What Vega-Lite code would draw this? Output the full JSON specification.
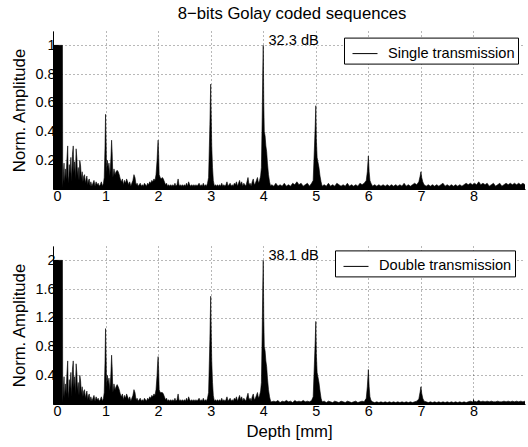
{
"$schema": "https://vega.github.io/schema/vega-lite/v6.json",
"padding": {"left": 11, "top": 6, "right": 0, "bottom": 2},
"config": {
  "font": "Liberation Sans",
  "view": {"stroke": null},
  "axis": {"labelFont": "Liberation Sans", "titleFont": "Liberation Sans", "labelColor": "black", "titleColor": "black", "domainColor": "black", "tickColor": "black", "labelFontSize": 14.4, "titleFontSize": 16.7, "titleFontWeight": "normal", "gridColor": "black", "gridDash": [1, 3], "gridOpacity": 0.7, "gridWidth": 0.8, "domainWidth": 1, "tickWidth": 1, "labelOverlap": false},
  "legend": {"labelFont": "Liberation Sans", "labelFontSize": 14.6, "labelColor": "black"}
},
"title": {"text": "8−bits Golay coded sequences", "fontSize": 16.7, "fontWeight": "normal", "font": "Liberation Sans", "color": "black", "anchor": "middle", "offset": 8, "dx": 23},
"datasets": {
 "topTicks": [{"tx":1},{"tx":2},{"tx":3},{"tx":4},{"tx":5},{"tx":6},{"tx":7},{"tx":8}]
},
"data": {"values": [
{"x":0,"s":1,"d":2},{"x":0.18,"s":1,"d":2},{"x":0.185,"s":0.01,"d":0.02},{"x":0.2,"s":0.12,"d":0.24},{"x":0.21,"s":0.18,"d":0.38},{"x":0.22,"s":0.04,"d":0.08},{"x":0.235,"s":0.14,"d":0.28},{"x":0.25,"s":0.07,"d":0.14},{"x":0.265,"s":0.21,"d":0.42},{"x":0.28,"s":0.3,"d":0.6},{"x":0.29,"s":0.09,"d":0.18},{"x":0.3,"s":0.04,"d":0.08},{"x":0.31,"s":0.17,"d":0.34},{"x":0.325,"s":0.11,"d":0.22},{"x":0.34,"s":0.22,"d":0.44},{"x":0.355,"s":0.05,"d":0.1},{"x":0.37,"s":0.24,"d":0.48},{"x":0.385,"s":0.3,"d":0.6},{"x":0.395,"s":0.11,"d":0.22},{"x":0.41,"s":0.19,"d":0.38},{"x":0.425,"s":0.07,"d":0.14},{"x":0.44,"s":0.28,"d":0.56},{"x":0.455,"s":0.21,"d":0.42},{"x":0.465,"s":0.09,"d":0.18},{"x":0.48,"s":0.15,"d":0.3},{"x":0.495,"s":0.06,"d":0.12},{"x":0.51,"s":0.2,"d":0.4},{"x":0.525,"s":0.16,"d":0.32},{"x":0.54,"s":0.07,"d":0.14},{"x":0.555,"s":0.12,"d":0.24},{"x":0.57,"s":0.05,"d":0.1},{"x":0.585,"s":0.09,"d":0.18},{"x":0.6,"s":0.1,"d":0.2},{"x":0.615,"s":0.04,"d":0.08},{"x":0.63,"s":0.07,"d":0.14},{"x":0.645,"s":0.09,"d":0.18},{"x":0.66,"s":0.03,"d":0.06},{"x":0.675,"s":0.06,"d":0.12},{"x":0.69,"s":0.07,"d":0.14},{"x":0.705,"s":0.02,"d":0.04},{"x":0.72,"s":0.05,"d":0.1},{"x":0.74,"s":0.02,"d":0.04},{"x":0.76,"s":0.04,"d":0.08},{"x":0.78,"s":0.06,"d":0.12},{"x":0.8,"s":0.02,"d":0.04},{"x":0.82,"s":0.05,"d":0.1},{"x":0.84,"s":0.03,"d":0.06},{"x":0.86,"s":0.04,"d":0.08},{"x":0.88,"s":0.02,"d":0.04},{"x":0.9,"s":0.03,"d":0.06},{"x":0.92,"s":0.05,"d":0.1},{"x":0.94,"s":0.02,"d":0.04},{"x":0.96,"s":0.04,"d":0.08},{"x":0.975,"s":0.08,"d":0.16},{"x":0.99,"s":0.3,"d":0.6},{"x":1,"s":0.52,"d":1.05},{"x":1.01,"s":0.33,"d":0.66},{"x":1.02,"s":0.11,"d":0.22},{"x":1.035,"s":0.2,"d":0.4},{"x":1.05,"s":0.14,"d":0.28},{"x":1.065,"s":0.18,"d":0.36},{"x":1.08,"s":0.09,"d":0.18},{"x":1.1,"s":0.2,"d":0.4},{"x":1.115,"s":0.34,"d":0.68},{"x":1.125,"s":0.26,"d":0.52},{"x":1.14,"s":0.08,"d":0.16},{"x":1.16,"s":0.14,"d":0.28},{"x":1.18,"s":0.1,"d":0.2},{"x":1.2,"s":0.12,"d":0.24},{"x":1.22,"s":0.13,"d":0.27},{"x":1.24,"s":0.12,"d":0.24},{"x":1.26,"s":0.1,"d":0.2},{"x":1.28,"s":0.07,"d":0.14},{"x":1.3,"s":0.05,"d":0.1},{"x":1.32,"s":0.07,"d":0.14},{"x":1.34,"s":0.03,"d":0.06},{"x":1.36,"s":0.06,"d":0.12},{"x":1.38,"s":0.04,"d":0.08},{"x":1.4,"s":0.07,"d":0.14},{"x":1.42,"s":0.05,"d":0.1},{"x":1.44,"s":0.03,"d":0.06},{"x":1.46,"s":0.05,"d":0.1},{"x":1.48,"s":0.02,"d":0.04},{"x":1.5,"s":0.04,"d":0.08},{"x":1.52,"s":0.06,"d":0.12},{"x":1.54,"s":0.1,"d":0.2},{"x":1.56,"s":0.08,"d":0.16},{"x":1.58,"s":0.03,"d":0.06},{"x":1.6,"s":0.04,"d":0.08},{"x":1.62,"s":0.02,"d":0.04},{"x":1.64,"s":0.03,"d":0.06},{"x":1.66,"s":0.04,"d":0.08},{"x":1.68,"s":0.02,"d":0.04},{"x":1.7,"s":0.03,"d":0.06},{"x":1.72,"s":0.02,"d":0.04},{"x":1.74,"s":0.04,"d":0.08},{"x":1.76,"s":0.03,"d":0.06},{"x":1.78,"s":0.02,"d":0.04},{"x":1.8,"s":0.04,"d":0.08},{"x":1.82,"s":0.03,"d":0.06},{"x":1.84,"s":0.05,"d":0.1},{"x":1.86,"s":0.04,"d":0.08},{"x":1.88,"s":0.06,"d":0.12},{"x":1.9,"s":0.05,"d":0.1},{"x":1.92,"s":0.07,"d":0.14},{"x":1.94,"s":0.06,"d":0.12},{"x":1.96,"s":0.1,"d":0.2},{"x":1.98,"s":0.2,"d":0.4},{"x":1.99,"s":0.28,"d":0.56},{"x":2,"s":0.34,"d":0.66},{"x":2.01,"s":0.24,"d":0.48},{"x":2.02,"s":0.1,"d":0.2},{"x":2.04,"s":0.08,"d":0.16},{"x":2.06,"s":0.07,"d":0.16},{"x":2.08,"s":0.08,"d":0.16},{"x":2.1,"s":0.07,"d":0.14},{"x":2.12,"s":0.05,"d":0.1},{"x":2.14,"s":0.03,"d":0.06},{"x":2.16,"s":0.04,"d":0.08},{"x":2.18,"s":0.02,"d":0.04},{"x":2.2,"s":0.03,"d":0.06},{"x":2.22,"s":0.02,"d":0.04},{"x":2.24,"s":0.03,"d":0.06},{"x":2.26,"s":0.02,"d":0.04},{"x":2.28,"s":0.03,"d":0.06},{"x":2.3,"s":0.02,"d":0.04},{"x":2.32,"s":0.04,"d":0.08},{"x":2.34,"s":0.02,"d":0.04},{"x":2.36,"s":0.03,"d":0.06},{"x":2.38,"s":0.07,"d":0.14},{"x":2.4,"s":0.02,"d":0.04},{"x":2.42,"s":0.03,"d":0.06},{"x":2.44,"s":0.02,"d":0.04},{"x":2.46,"s":0.03,"d":0.06},{"x":2.48,"s":0.02,"d":0.04},{"x":2.5,"s":0.03,"d":0.06},{"x":2.52,"s":0.02,"d":0.04},{"x":2.54,"s":0.04,"d":0.08},{"x":2.56,"s":0.02,"d":0.04},{"x":2.58,"s":0.05,"d":0.1},{"x":2.6,"s":0.03,"d":0.06},{"x":2.62,"s":0.02,"d":0.04},{"x":2.64,"s":0.03,"d":0.06},{"x":2.66,"s":0.02,"d":0.04},{"x":2.68,"s":0.03,"d":0.06},{"x":2.7,"s":0.02,"d":0.04},{"x":2.72,"s":0.03,"d":0.06},{"x":2.74,"s":0.02,"d":0.04},{"x":2.76,"s":0.03,"d":0.06},{"x":2.78,"s":0.04,"d":0.08},{"x":2.8,"s":0.02,"d":0.04},{"x":2.82,"s":0.03,"d":0.06},{"x":2.84,"s":0.02,"d":0.04},{"x":2.86,"s":0.04,"d":0.08},{"x":2.88,"s":0.02,"d":0.04},{"x":2.9,"s":0.03,"d":0.06},{"x":2.92,"s":0.02,"d":0.04},{"x":2.94,"s":0.04,"d":0.08},{"x":2.96,"s":0.08,"d":0.16},{"x":2.975,"s":0.3,"d":0.6},{"x":2.985,"s":0.45,"d":0.9},{"x":3,"s":0.73,"d":1.5},{"x":3.01,"s":0.5,"d":1},{"x":3.02,"s":0.3,"d":0.6},{"x":3.035,"s":0.15,"d":0.3},{"x":3.05,"s":0.06,"d":0.12},{"x":3.07,"s":0.02,"d":0.04},{"x":3.09,"s":0.03,"d":0.06},{"x":3.11,"s":0.02,"d":0.04},{"x":3.13,"s":0.03,"d":0.06},{"x":3.15,"s":0.02,"d":0.04},{"x":3.17,"s":0.03,"d":0.06},{"x":3.19,"s":0.02,"d":0.04},{"x":3.21,"s":0.04,"d":0.08},{"x":3.23,"s":0.02,"d":0.04},{"x":3.25,"s":0.03,"d":0.06},{"x":3.27,"s":0.02,"d":0.04},{"x":3.29,"s":0.03,"d":0.06},{"x":3.31,"s":0.05,"d":0.1},{"x":3.33,"s":0.02,"d":0.04},{"x":3.35,"s":0.03,"d":0.06},{"x":3.37,"s":0.04,"d":0.08},{"x":3.39,"s":0.02,"d":0.04},{"x":3.41,"s":0.03,"d":0.06},{"x":3.43,"s":0.02,"d":0.04},{"x":3.45,"s":0.04,"d":0.08},{"x":3.47,"s":0.03,"d":0.06},{"x":3.49,"s":0.05,"d":0.1},{"x":3.51,"s":0.02,"d":0.04},{"x":3.53,"s":0.04,"d":0.08},{"x":3.55,"s":0.06,"d":0.12},{"x":3.57,"s":0.03,"d":0.06},{"x":3.59,"s":0.05,"d":0.1},{"x":3.61,"s":0.02,"d":0.04},{"x":3.63,"s":0.04,"d":0.08},{"x":3.65,"s":0.03,"d":0.06},{"x":3.67,"s":0.02,"d":0.04},{"x":3.69,"s":0.05,"d":0.1},{"x":3.71,"s":0.08,"d":0.15},{"x":3.73,"s":0.03,"d":0.06},{"x":3.75,"s":0.04,"d":0.08},{"x":3.77,"s":0.02,"d":0.04},{"x":3.79,"s":0.05,"d":0.1},{"x":3.81,"s":0.07,"d":0.14},{"x":3.83,"s":0.03,"d":0.06},{"x":3.85,"s":0.04,"d":0.08},{"x":3.87,"s":0.06,"d":0.12},{"x":3.89,"s":0.08,"d":0.16},{"x":3.91,"s":0.04,"d":0.08},{"x":3.93,"s":0.06,"d":0.12},{"x":3.95,"s":0.09,"d":0.18},{"x":3.965,"s":0.15,"d":0.3},{"x":3.98,"s":0.5,"d":1},{"x":3.99,"s":0.8,"d":1.6},{"x":4,"s":1,"d":2},{"x":4.01,"s":0.6,"d":1.2},{"x":4.02,"s":0.4,"d":0.8},{"x":4.035,"s":0.37,"d":0.74},{"x":4.05,"s":0.3,"d":0.6},{"x":4.065,"s":0.26,"d":0.52},{"x":4.08,"s":0.18,"d":0.36},{"x":4.1,"s":0.1,"d":0.2},{"x":4.12,"s":0.05,"d":0.1},{"x":4.14,"s":0.02,"d":0.04},
{"x":4.16,"s":0.03,"d":0.03},{"x":4.2,"s":0.02,"d":0.04},{"x":4.24,"s":0.04,"d":0.03},{"x":4.28,"s":0.02,"d":0.05},{"x":4.32,"s":0.03,"d":0.02},{"x":4.36,"s":0.02,"d":0.04},{"x":4.4,"s":0.04,"d":0.03},{"x":4.44,"s":0.02,"d":0.05},{"x":4.48,"s":0.03,"d":0.03},{"x":4.52,"s":0.02,"d":0.04},{"x":4.56,"s":0.04,"d":0.02},{"x":4.6,"s":0.03,"d":0.05},{"x":4.64,"s":0.05,"d":0.03},{"x":4.68,"s":0.03,"d":0.04},{"x":4.72,"s":0.04,"d":0.03},{"x":4.76,"s":0.02,"d":0.05},{"x":4.8,"s":0.03,"d":0.03},{"x":4.84,"s":0.04,"d":0.04},{"x":4.88,"s":0.02,"d":0.03},{"x":4.92,"s":0.04,"d":0.05},{"x":4.95,"s":0.06,"d":0.1},{"x":4.975,"s":0.3,"d":0.6},{"x":4.99,"s":0.45,"d":0.9},{"x":5,"s":0.58,"d":1.15},{"x":5.01,"s":0.35,"d":0.7},{"x":5.025,"s":0.22,"d":0.44},{"x":5.04,"s":0.19,"d":0.38},{"x":5.06,"s":0.15,"d":0.3},{"x":5.08,"s":0.09,"d":0.18},{"x":5.1,"s":0.05,"d":0.08},{"x":5.12,"s":0.02,"d":0.03},
{"x":5.16,"s":0.03,"d":0.04},{"x":5.2,"s":0.02,"d":0.02},{"x":5.24,"s":0.04,"d":0.04},{"x":5.28,"s":0.02,"d":0.03},{"x":5.32,"s":0.03,"d":0.02},{"x":5.36,"s":0.02,"d":0.04},{"x":5.4,"s":0.04,"d":0.03},{"x":5.44,"s":0.03,"d":0.02},{"x":5.48,"s":0.02,"d":0.04},{"x":5.52,"s":0.03,"d":0.03},{"x":5.56,"s":0.02,"d":0.02},{"x":5.6,"s":0.04,"d":0.04},{"x":5.64,"s":0.02,"d":0.03},{"x":5.68,"s":0.03,"d":0.02},{"x":5.72,"s":0.02,"d":0.03},{"x":5.76,"s":0.03,"d":0.04},{"x":5.8,"s":0.02,"d":0.02},{"x":5.84,"s":0.04,"d":0.03},{"x":5.88,"s":0.03,"d":0.04},{"x":5.92,"s":0.04,"d":0.03},{"x":5.96,"s":0.06,"d":0.08},{"x":5.98,"s":0.12,"d":0.24},{"x":6,"s":0.23,"d":0.48},{"x":6.015,"s":0.12,"d":0.24},{"x":6.03,"s":0.06,"d":0.1},{"x":6.05,"s":0.04,"d":0.05},{"x":6.08,"s":0.02,"d":0.03},
{"x":6.12,"s":0.03,"d":0.02},{"x":6.16,"s":0.02,"d":0.03},{"x":6.2,"s":0.03,"d":0.02},{"x":6.24,"s":0.02,"d":0.03},{"x":6.28,"s":0.03,"d":0.02},{"x":6.32,"s":0.02,"d":0.03},{"x":6.36,"s":0.03,"d":0.02},{"x":6.4,"s":0.02,"d":0.03},{"x":6.44,"s":0.03,"d":0.02},{"x":6.48,"s":0.02,"d":0.03},{"x":6.52,"s":0.03,"d":0.02},{"x":6.56,"s":0.02,"d":0.03},{"x":6.6,"s":0.03,"d":0.02},{"x":6.64,"s":0.02,"d":0.03},{"x":6.68,"s":0.04,"d":0.02},{"x":6.72,"s":0.02,"d":0.03},{"x":6.76,"s":0.03,"d":0.02},{"x":6.8,"s":0.02,"d":0.03},{"x":6.84,"s":0.03,"d":0.02},{"x":6.88,"s":0.04,"d":0.03},{"x":6.92,"s":0.03,"d":0.04},{"x":6.96,"s":0.05,"d":0.07},{"x":6.985,"s":0.09,"d":0.17},{"x":7,"s":0.12,"d":0.24},{"x":7.015,"s":0.08,"d":0.15},{"x":7.035,"s":0.05,"d":0.08},{"x":7.06,"s":0.03,"d":0.04},
{"x":7.1,"s":0.02,"d":0.03},{"x":7.14,"s":0.03,"d":0.02},{"x":7.18,"s":0.02,"d":0.03},{"x":7.22,"s":0.03,"d":0.02},{"x":7.26,"s":0.02,"d":0.03},{"x":7.3,"s":0.03,"d":0.02},{"x":7.34,"s":0.02,"d":0.03},{"x":7.38,"s":0.03,"d":0.02},{"x":7.42,"s":0.04,"d":0.03},{"x":7.46,"s":0.02,"d":0.02},{"x":7.5,"s":0.03,"d":0.03},{"x":7.54,"s":0.02,"d":0.02},{"x":7.58,"s":0.03,"d":0.03},{"x":7.62,"s":0.02,"d":0.02},{"x":7.66,"s":0.03,"d":0.03},{"x":7.7,"s":0.02,"d":0.02},{"x":7.74,"s":0.03,"d":0.03},{"x":7.78,"s":0.02,"d":0.02},{"x":7.82,"s":0.03,"d":0.03},{"x":7.86,"s":0.04,"d":0.02},{"x":7.9,"s":0.03,"d":0.03},{"x":7.94,"s":0.04,"d":0.04},{"x":7.98,"s":0.03,"d":0.03},{"x":8.02,"s":0.04,"d":0.04},{"x":8.06,"s":0.03,"d":0.03},{"x":8.1,"s":0.05,"d":0.05},{"x":8.14,"s":0.03,"d":0.03},{"x":8.18,"s":0.04,"d":0.04},{"x":8.22,"s":0.03,"d":0.03},{"x":8.26,"s":0.04,"d":0.04},{"x":8.3,"s":0.02,"d":0.03},{"x":8.34,"s":0.03,"d":0.04},{"x":8.38,"s":0.04,"d":0.03},{"x":8.42,"s":0.02,"d":0.03},{"x":8.46,"s":0.03,"d":0.04},{"x":8.5,"s":0.04,"d":0.03},{"x":8.54,"s":0.02,"d":0.03},{"x":8.58,"s":0.03,"d":0.04},{"x":8.62,"s":0.04,"d":0.03},{"x":8.66,"s":0.03,"d":0.04},{"x":8.7,"s":0.04,"d":0.03},{"x":8.74,"s":0.03,"d":0.04},{"x":8.78,"s":0.04,"d":0.03},{"x":8.82,"s":0.03,"d":0.04},{"x":8.86,"s":0.04,"d":0.03},{"x":8.9,"s":0.03,"d":0.04},{"x":8.94,"s":0.04,"d":0.03},{"x":8.98,"s":0.03,"d":0.04}
]},
"spacing": 43,
"resolve": {"scale": {"y": "independent", "color": "independent"}, "legend": {"color": "independent"}},
"vconcat": [
 {
  "width": 472, "height": 158,
  "encoding": {
   "x": {"field": "x", "type": "quantitative", "scale": {"domain": [0, 8.98], "nice": false, "zero": false}, "axis": {"orient": "bottom", "values": [0,1,2,3,4,5,6,7,8], "format": "d", "title": null, "grid": true, "tickSize": -5, "labelPadding": 5}},
   "y": {"field": "s", "type": "quantitative", "scale": {"domain": [0, 1.1], "nice": false}, "axis": {"orient": "left", "values": [0.2,0.4,0.6,0.8,1], "format": "~g", "title": "Norm. Amplitude", "grid": true, "tickSize": -5, "labelPadding": 3, "titlePadding": 6, "labelOverlap": false}}
  },
  "layer": [
   {"mark": {"type": "area", "color": "black", "interpolate": "linear"}},
   {"mark": {"type": "line", "strokeWidth": 0.6, "interpolate": "linear"},
    "encoding": {
     "color": {"datum": "Single transmission", "type": "nominal", "scale": {"range": ["black"]}, "legend": {"title": null, "orient": "none", "legendX": 291, "legendY": 6.6, "strokeColor": "black", "fillColor": "white", "padding": 3, "symbolType": "stroke", "symbolSize": 625, "symbolStrokeWidth": 1, "symbolOffset": 5, "labelOffset": 10, "labelExpr": "datum.label + ' '", "cornerRadius": 0}}
    }},
   {"data": {"values": [{"s": 1.1}]},
    "mark": {"type": "rule", "color": "black", "strokeWidth": 1},
    "encoding": {"x": {"datum": 0}, "x2": {"datum": 8.98}}},
   {"data": {"name": "topTicks"},
    "mark": {"type": "rule", "color": "black", "strokeWidth": 1},
    "encoding": {"x": {"field": "tx", "type": "quantitative"}, "y": {"datum": 1.1}, "y2": {"datum": 1.065}}},
   {"data": {"values": [{"s": 0.2},{"s": 0.4},{"s": 0.6},{"s": 0.8},{"s": 1}]},
    "mark": {"type": "rule", "color": "black", "strokeWidth": 1},
    "encoding": {"x": {"datum": 8.98}, "x2": {"datum": 8.905}}},
   {"data": {"values": [{"x": 4.1, "s": 1.0, "t": "32.3 dB"}]},
    "mark": {"type": "text", "align": "left", "baseline": "alphabetic", "fontSize": 14.6, "font": "Liberation Sans", "color": "black"},
    "encoding": {"text": {"field": "t"}}}
  ]
 },
 {
  "width": 472, "height": 158,
  "encoding": {
   "x": {"field": "x", "type": "quantitative", "scale": {"domain": [0, 8.98], "nice": false, "zero": false}, "axis": {"orient": "bottom", "values": [0,1,2,3,4,5,6,7,8], "format": "d", "title": "Depth [mm]", "grid": true, "tickSize": -5, "labelPadding": 5, "titlePadding": 6}},
   "y": {"field": "d", "type": "quantitative", "scale": {"domain": [0, 2.2], "nice": false}, "axis": {"orient": "left", "values": [0.4,0.8,1.2,1.6,2], "format": "~g", "title": "Norm. Amplitude", "grid": true, "tickSize": -5, "labelPadding": 3, "titlePadding": 6, "labelOverlap": false}}
  },
  "layer": [
   {"mark": {"type": "area", "color": "black", "interpolate": "linear"}},
   {"mark": {"type": "line", "strokeWidth": 0.6, "interpolate": "linear"},
    "encoding": {
     "color": {"datum": "Double transmission", "type": "nominal", "scale": {"range": ["black"]}, "legend": {"title": null, "orient": "none", "legendX": 282, "legendY": 4.4, "strokeColor": "black", "fillColor": "white", "padding": 3, "symbolType": "stroke", "symbolSize": 625, "symbolStrokeWidth": 1, "symbolOffset": 5, "labelOffset": 10, "labelExpr": "datum.label + ' '", "cornerRadius": 0}}
    }},
   {"data": {"values": [{"d": 2.2}]},
    "mark": {"type": "rule", "color": "black", "strokeWidth": 1},
    "encoding": {"x": {"datum": 0}, "x2": {"datum": 8.98}}},
   {"data": {"name": "topTicks"},
    "mark": {"type": "rule", "color": "black", "strokeWidth": 1},
    "encoding": {"x": {"field": "tx", "type": "quantitative"}, "y": {"datum": 2.2}, "y2": {"datum": 2.13}}},
   {"data": {"values": [{"d": 0.4},{"d": 0.8},{"d": 1.2},{"d": 1.6},{"d": 2}]},
    "mark": {"type": "rule", "color": "black", "strokeWidth": 1},
    "encoding": {"x": {"datum": 8.98}, "x2": {"datum": 8.905}}},
   {"data": {"values": [{"x": 4.1, "d": 2.0, "t": "38.1 dB"}]},
    "mark": {"type": "text", "align": "left", "baseline": "alphabetic", "fontSize": 14.6, "font": "Liberation Sans", "color": "black"},
    "encoding": {"text": {"field": "t"}}}
  ]
 }
]
}
